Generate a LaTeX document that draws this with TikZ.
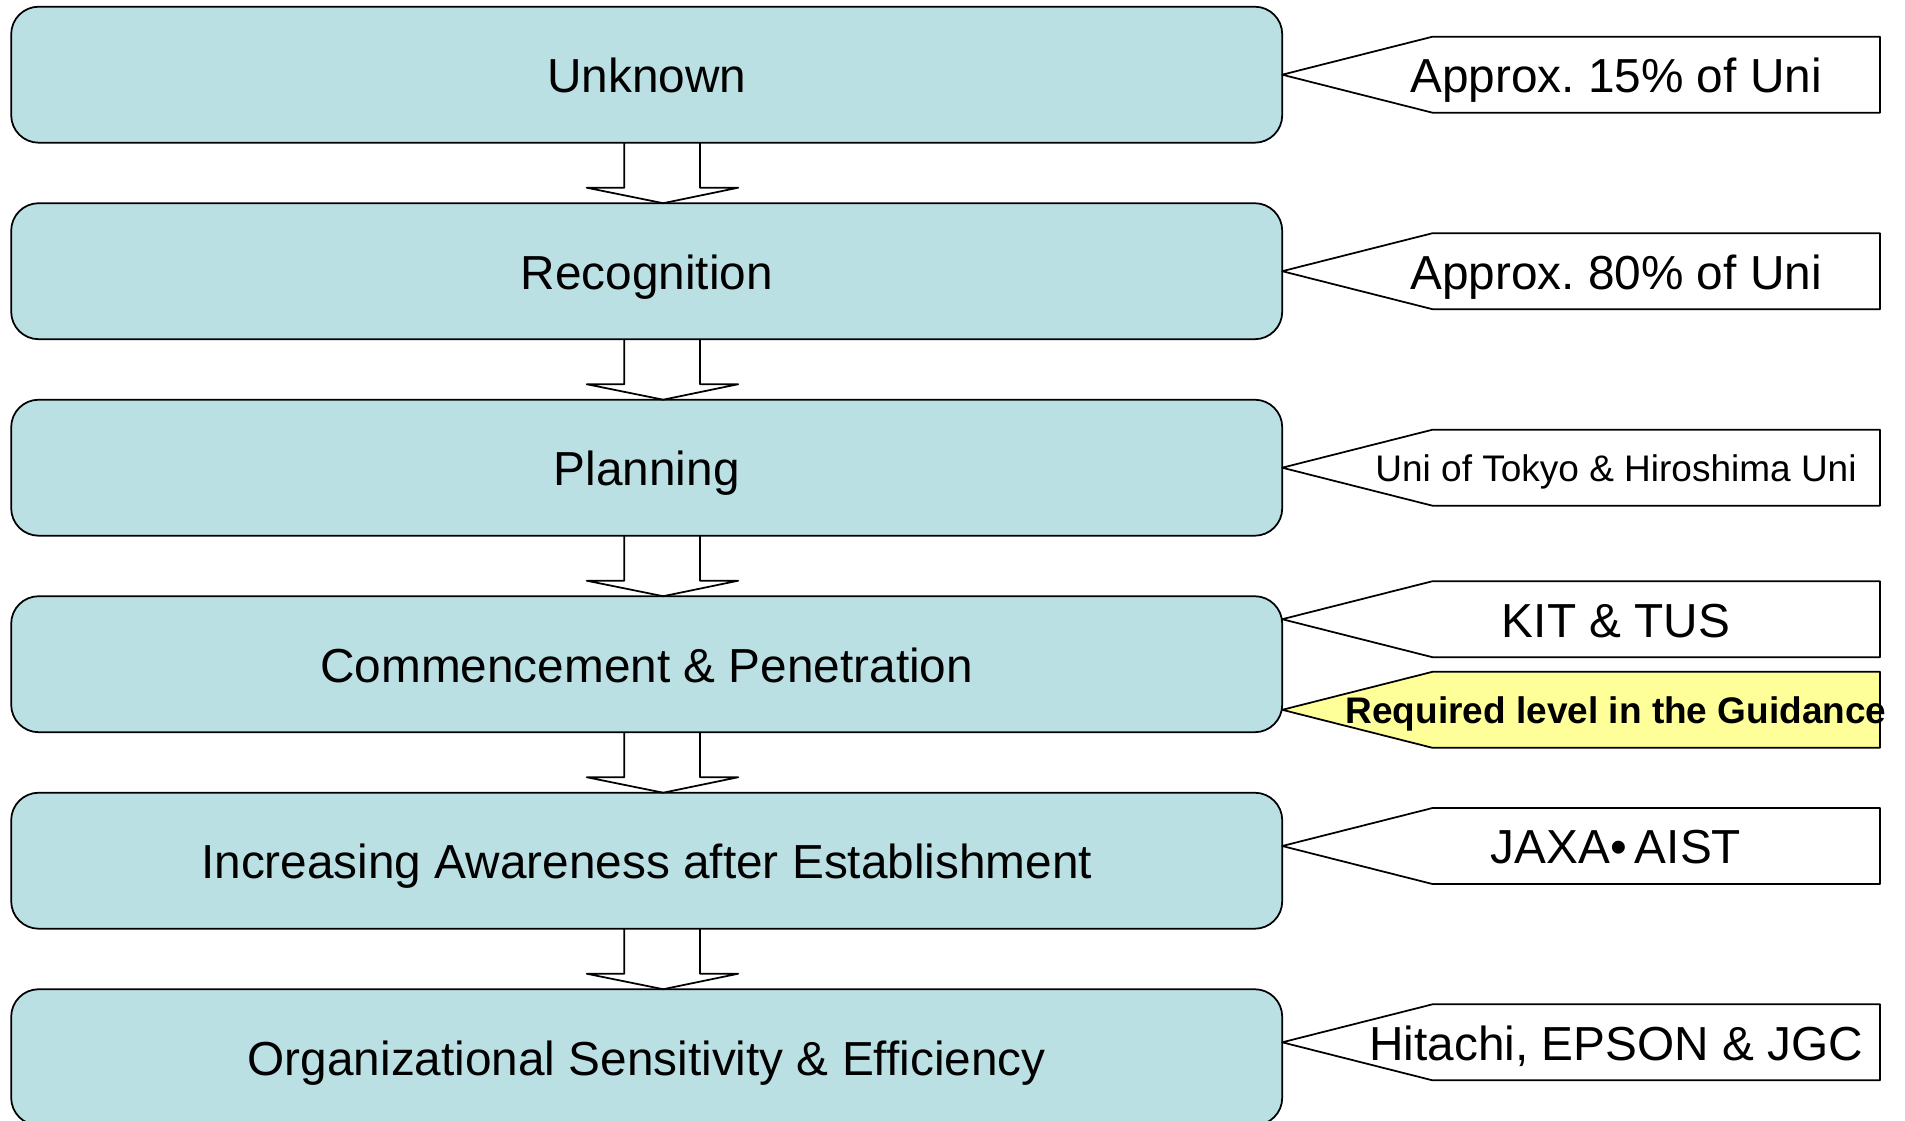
\documentclass[tikz,border=0pt]{standalone}
\usepackage{fontspec}
\setmainfont{Liberation Sans}
\usepackage{xcolor}
\usetikzlibrary{positioning}
\definecolor{stagefill}{HTML}{BBE0E3}
\definecolor{notefill}{HTML}{FFFF99}

\begin{document}
\begin{tikzpicture}
[
x=0.4pt, y=-0.4pt,
stage/.style={draw, fill=stagefill, rounded corners=11pt, line width=0.7pt, minimum width=508.4pt, minimum height=54.4pt, outer sep=0pt, inner sep=0pt, text height=14.3pt, text depth=0pt, font=\fontsize{19.1}{23}\selectfont},
flow/.style={draw, line width=0.7pt, line join=round},
note/.style={draw, fill=white, line width=0.7pt, line join=round},
note-hl/.style={note, fill=notefill},
text-a/.style={inner sep=0pt, text height=14.3pt, text depth=0pt, font=\fontsize{19.1}{23}\selectfont},
text-b/.style={inner sep=0pt, text height=11.1pt, text depth=0pt, font=\fontsize{14.8}{18}\selectfont},
text-c/.style={inner sep=0pt, text height=11.1pt, text depth=0pt, font=\fontsize{14.8}{18}\selectfont\bfseries}
]
\useasboundingbox (0,0) rectangle (1905,1120);
% stages
\node (stage-1) [stage] at (646.7,74.7)          {Unknown};
\node (stage-2) [stage, below = 24.2pt of stage-1] {Recognition};
\node (stage-3) [stage, below = 24.2pt of stage-2] {Planning};
\node (stage-4) [stage, below = 24.2pt of stage-3] {Commencement \& Penetration};
\node (stage-5) [stage, below = 24.2pt of stage-4] {Increasing Awareness after Establishment};
\node (stage-6) [stage, below = 24.2pt of stage-5] {Organizational Sensitivity \& Efficiency};
% block arrows
\draw[flow] ([xshift=-9pt]stage-1.south) -- ++(0pt,-18pt) -- ++(-15pt,0pt) -- ([xshift=6.6pt]stage-2.north) -- ([xshift=36.6pt,yshift=-18pt]stage-1.south) -- ++(-15.3pt,0pt) -- ([xshift=21.3pt]stage-1.south);
\draw[flow] ([xshift=-9pt]stage-2.south) -- ++(0pt,-18pt) -- ++(-15pt,0pt) -- ([xshift=6.6pt]stage-3.north) -- ([xshift=36.6pt,yshift=-18pt]stage-2.south) -- ++(-15.3pt,0pt) -- ([xshift=21.3pt]stage-2.south);
\draw[flow] ([xshift=-9pt]stage-3.south) -- ++(0pt,-18pt) -- ++(-15pt,0pt) -- ([xshift=6.6pt]stage-4.north) -- ([xshift=36.6pt,yshift=-18pt]stage-3.south) -- ++(-15.3pt,0pt) -- ([xshift=21.3pt]stage-3.south);
\draw[flow] ([xshift=-9pt]stage-4.south) -- ++(0pt,-18pt) -- ++(-15pt,0pt) -- ([xshift=6.6pt]stage-5.north) -- ([xshift=36.6pt,yshift=-18pt]stage-4.south) -- ++(-15.3pt,0pt) -- ([xshift=21.3pt]stage-4.south);
\draw[flow] ([xshift=-9pt]stage-5.south) -- ++(0pt,-18pt) -- ++(-15pt,0pt) -- ([xshift=6.6pt]stage-6.north) -- ([xshift=36.6pt,yshift=-18pt]stage-5.south) -- ++(-15.3pt,0pt) -- ([xshift=21.3pt]stage-5.south);
% callouts
\draw[note]    (stage-1.east |- 0,74.7)   -- (1432.5,36.7)  -- (1880,36.7)  -- (1880,112.7)  -- (1432.5,112.7)  -- cycle;
\node (note-1) [text-a] at (1616,74.7)   {Approx.\ 15\% of Uni};
\draw[note]    (stage-2.east |- 0,271.2)  -- (1432.5,233.2) -- (1880,233.2) -- (1880,309.2)  -- (1432.5,309.2)  -- cycle;
\node (note-2) [text-a] at (1616,271.2)  {Approx.\ 80\% of Uni};
\draw[note]    (stage-3.east |- 0,467.7)  -- (1432.5,429.7) -- (1880,429.7) -- (1880,505.7)  -- (1432.5,505.7)  -- cycle;
\node (note-3) [text-b] at (1616,467.7)  {Uni of Tokyo \& Hiroshima Uni};
\draw[note]    (stage-4.east |- 0,619.2)  -- (1432.5,581.2) -- (1880,581.2) -- (1880,657.2)  -- (1432.5,657.2)  -- cycle;
\node (note-4) [text-a] at (1616,619.2)  {KIT \& TUS};
\draw[note-hl] (stage-4.east |- 0,709.8)  -- (1432.5,671.8) -- (1880,671.8) -- (1880,747.8)  -- (1432.5,747.8)  -- cycle;
\node (note-5) [text-c] at (1616,709.8)  {Required level in the Guidance};
\draw[note]    (stage-5.east |- 0,846)    -- (1432.5,808)   -- (1880,808)   -- (1880,884)    -- (1432.5,884)    -- cycle;
\node (note-6) [text-a] at (1616,846)    {JAXA•\,AIST};
\draw[note]    (stage-6.east |- 0,1042.3) -- (1432.5,1004.3) -- (1880,1004.3) -- (1880,1080.3) -- (1432.5,1080.3) -- cycle;
\node (note-7) [text-a] at (1616,1042.3) {Hitachi, EPSON \& JGC};
\end{tikzpicture}
\end{document}
